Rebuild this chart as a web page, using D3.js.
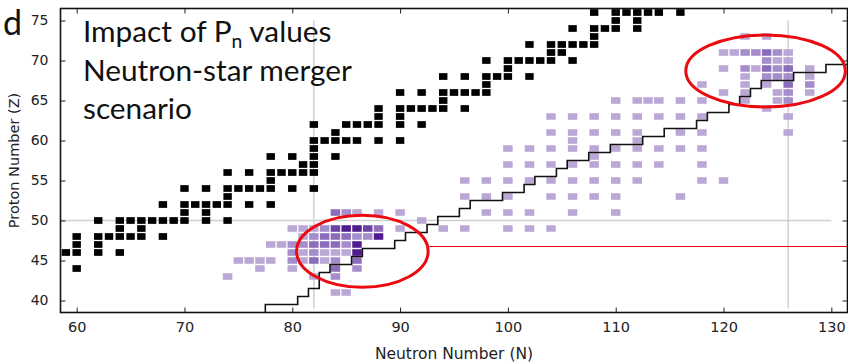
<!DOCTYPE html>
<html lang="en">
<head>
<meta charset="utf-8">
<script src="https://d3js.org/d3.v7.min.js"></script>
<style>
  body { margin: 0; background: #fff; }
  svg { display: block; }
  .axis text { font-family: "DejaVu Sans", sans-serif; fill: #222; }
  .axis line { stroke: #222; stroke-width: 1; }
  .axis .domain { display: none; }
</style>
</head>
<body>
<script>

// stable nuclei (black squares): proton number and its neutron numbers
var stableZ = [44, 46, 47, 48, 49, 50, 51, 52, 53, 54, 55, 56, 57, 58, 59, 60, 61, 62,
               63, 64, 65, 66, 67, 68, 69, 70, 71, 72, 73, 74, 75, 76];
var stableN = [
  [60], [59, 60, 62, 64], [60, 62], [60, 62, 63, 64, 65, 66, 68], [64, 66],
  [62, 64, 65, 66, 67, 68, 69, 70, 72, 74], [70, 72], [68, 70, 71, 72, 73, 74, 76, 78],
  [74], [70, 72, 74, 75, 76, 77, 78, 80, 82], [78], [74, 76, 78, 79, 80, 81, 82],
  [81, 82], [78, 80, 82, 84], [82], [82, 83, 84, 85, 86, 88, 90], [84],
  [82, 85, 86, 87, 88, 90, 92], [88, 90], [88, 90, 91, 92, 93, 94, 96], [94],
  [90, 92, 94, 95, 96, 97, 98], [98], [94, 96, 98, 99, 100, 102], [100],
  [98, 100, 101, 102, 103, 104, 106], [104, 105], [102, 104, 105, 106, 107, 108], [108],
  [106, 108, 109, 110, 112], [110, 112], [108, 110, 111, 112, 113, 114, 116]
];

// nuclei with Pn-value impact (purple squares), level 1 (weak) .. 5 (strong)
var pnZ = [41, 43, 44, 45, 46, 47, 48, 49, 50, 51, 53, 55, 57, 58, 59, 60, 61,
           63, 64, 65, 66, 67, 68, 69, 70, 71, 73];
var pnN = [
  [84, 85],
  [74, 82, 84],
  [77, 80, 84, 86],
  [75, 76, 77, 78, 80, 81, 82, 83, 84, 86],
  [80, 81, 82, 83, 84, 85, 86],
  [78, 79, 80, 81, 82, 83, 84, 85, 86],
  [81, 82, 83, 84, 85, 86, 87, 88],
  [80, 81, 82, 83, 84, 85, 86, 87, 88, 90, 94, 96, 100, 102, 104],
  [92],
  [84, 85, 86, 88, 90, 98, 100, 102, 106, 110],
  [96, 98, 100, 104, 106, 108, 110, 116],
  [96, 98, 100, 102, 104, 106, 108, 110, 112, 118, 120],
  [100, 102, 104, 106, 108, 110, 112, 114, 118],
  [108],
  [100, 102, 104, 106, 108, 110, 112, 114, 116, 118],
  [106, 112],
  [104, 106, 108, 110, 112, 116, 118, 126],
  [104, 106, 108, 110, 112, 114, 116, 118, 126],
  [124],
  [110, 112, 113, 114, 116, 118, 122, 125, 126],
  [120, 122, 125, 126, 128],
  [118, 122, 124, 126, 128],
  [122, 124, 125, 126, 128],
  [120, 122, 123, 124, 125, 126, 128],
  [124, 125, 126],
  [120, 121, 122, 123, 124, 125, 126],
  [122, 124]
];
var pnLevel = [
  [1, 1],
  [1, 1, 2],
  [1, 1, 3, 2],
  [1, 1, 1, 1, 2, 1, 3, 1, 2, 3],
  [2, 1, 2, 1, 1, 1, 5],
  [1, 1, 2, 2, 3, 3, 3, 2, 5],
  [1, 2, 3, 3, 3, 2, 2, 5],
  [1, 1, 1, 2, 4, 5, 5, 4, 3, 1, 1, 1, 1, 1, 1],
  [1],
  [3, 2, 1, 1, 1, 1, 1, 1, 1, 1],
  [1, 1, 1, 1, 1, 1, 1, 1],
  [1, 1, 1, 1, 1, 1, 1, 1, 1, 1, 1],
  [1, 1, 1, 1, 1, 1, 1, 1, 1],
  [1],
  [1, 1, 1, 1, 1, 1, 1, 1, 1, 1],
  [1, 1],
  [1, 1, 1, 1, 1, 1, 1, 1],
  [1, 1, 1, 1, 1, 1, 1, 1, 1],
  [1],
  [1, 1, 1, 1, 1, 1, 1, 1, 2],
  [1, 1, 1, 2, 1],
  [1, 1, 1, 3, 2],
  [1, 2, 2, 2, 1],
  [1, 2, 1, 3, 2, 3, 1],
  [2, 1, 1],
  [1, 1, 2, 2, 3, 2, 1],
  [1, 1]
];
var levelColors = ["#bba7d6", "#a58ccb", "#8c6dba", "#6c42a5", "#4f1d8e"];

// staircase (cell edges)
var pathN = [77.5, 77.5, 80.5, 80.5, 81.5, 81.5, 82.5, 82.5, 83.5, 83.5, 85.5, 85.5, 86.5, 86.5,
             89.5, 89.5, 90.5, 90.5, 92.5, 92.5, 93.5, 93.5, 95.5, 95.5, 96.5, 96.5, 99.5, 99.5,
             101.5, 101.5, 102.5, 102.5, 104.5, 104.5, 105.5, 105.5, 107.5, 107.5, 109.5, 109.5,
             112.5, 112.5, 114.5, 114.5, 117.5, 117.5, 118.5, 118.5, 120.5, 120.5, 121.5, 121.5,
             122.5, 122.5, 123.5, 123.5, 126.5, 126.5, 129.5, 129.5, 131.5];
var pathZ = [38.5, 39.5, 39.5, 40.5, 40.5, 41.5, 41.5, 43.5, 43.5, 44.5, 44.5, 45.5, 45.5, 46.5,
             46.5, 47.5, 47.5, 48.5, 48.5, 49.5, 49.5, 50.5, 50.5, 51.5, 51.5, 52.5, 52.5, 53.5,
             53.5, 54.5, 54.5, 55.5, 55.5, 56.5, 56.5, 57.5, 57.5, 58.5, 58.5, 59.5,
             59.5, 60.5, 60.5, 61.5, 61.5, 62.5, 62.5, 63.5, 63.5, 64.5, 64.5, 65.5,
             65.5, 66.5, 66.5, 67.5, 67.5, 68.5, 68.5, 69.5, 69.5];

var magicN = [82, 126];
var magicZ = [50];
var xTicks = [60, 70, 80, 90, 100, 110, 120, 130];
var yTicks = [40, 45, 50, 55, 60, 65, 70, 75];

// red annotations: ellipses (centre N, Z, radius N, Z) and the marker line
var ringN = [86.5, 123.9];
var ringZ = [46.15, 68.7];
var ringRN = [6.1, 7.4];
var ringRZ = [4.5, 4.5];
var markZ = 46.75, markN0 = 92.7;

var titleLines = ["Impact of P", "Neutron-star merger", "scenario"];

var width = 848, height = 364;
var svg = d3.select("body").append("svg")
    .attr("width", width).attr("height", height);

var x = d3.scaleLinear().domain([58.5, 131.5]).range([60.5, 847.5]);
var y = d3.scaleLinear().domain([38.5, 76.5]).range([312.5, 8.5]);

svg.append("clipPath").attr("id", "clip")
  .append("rect")
    .attr("x", x(58.5)).attr("y", y(76.5))
    .attr("width", x(131.5) - x(58.5)).attr("height", y(38.5) - y(76.5));

var plot = svg.append("g").attr("clip-path", "url(#clip)");

// magic number guide lines
plot.selectAll(".magN").data(magicN).enter().append("line")
    .attr("x1", d => x(d)).attr("x2", d => x(d))
    .attr("y1", y(39)).attr("y2", y(75))
    .attr("stroke", "#d0d0d0").attr("stroke-width", 1.5);
plot.selectAll(".magZ").data(magicZ).enter().append("line")
    .attr("x1", x(58.5)).attr("x2", x(130))
    .attr("y1", d => y(d)).attr("y2", d => y(d))
    .attr("stroke", "#d0d0d0").attr("stroke-width", 1.5);

// purple cells
var pnCells = [];
pnZ.forEach(function(z, i) {
  pnN[i].forEach(function(n, j) { pnCells.push({Z: z, N: n, lv: pnLevel[i][j]}); });
});
plot.selectAll(".pn").data(pnCells).enter().append("rect")
    .attr("x", d => x(d.N - 0.44))
    .attr("y", d => y(d.Z + 0.41))
    .attr("width", d => x(d.N + 0.44) - x(d.N - 0.44))
    .attr("height", d => y(d.Z - 0.41) - y(d.Z + 0.41))
    .attr("fill", d => levelColors[d.lv - 1]);

// stable cells
var stableCells = [];
stableZ.forEach(function(z, i) {
  stableN[i].forEach(function(n) { stableCells.push({Z: z, N: n}); });
});
plot.selectAll(".st").data(stableCells).enter().append("rect")
    .attr("x", d => x(d.N - 0.39))
    .attr("y", d => y(d.Z + 0.42))
    .attr("width", d => x(d.N + 0.39) - x(d.N - 0.39))
    .attr("height", d => y(d.Z - 0.42) - y(d.Z + 0.42))
    .attr("fill", "#000");

// staircase
var stair = d3.line().x(d => x(d[0])).y(d => y(d[1]));
plot.append("path")
    .attr("d", stair(pathN.map((n, i) => [n, pathZ[i]])))
    .attr("fill", "none").attr("stroke", "#111").attr("stroke-width", 1.6);

// red marker line
plot.append("line")
    .attr("x1", x(markN0)).attr("x2", x(131.5))
    .attr("y1", y(markZ)).attr("y2", y(markZ))
    .attr("stroke", "#e8000b").attr("stroke-width", 1.2);

// axes (ticks pointing inward on all four sides)
var gx = svg.append("g").attr("class", "axis")
    .attr("transform", "translate(0," + y(38.5) + ")")
    .call(d3.axisBottom(x).tickValues(xTicks).tickSize(-5).tickPadding(9));
gx.selectAll("text").style("font-size", "14.5px");

var gy = svg.append("g").attr("class", "axis")
    .attr("transform", "translate(" + x(58.5) + ",0)")
    .call(d3.axisLeft(y).tickValues(yTicks).tickSize(-5).tickPadding(12));
gy.selectAll("text").style("font-size", "14px");

svg.append("g").attr("class", "axis")
    .attr("transform", "translate(0," + y(76.5) + ")")
    .call(d3.axisTop(x).tickValues(xTicks).tickSize(-5).tickFormat(""));
svg.append("g").attr("class", "axis")
    .attr("transform", "translate(" + x(131.5) + ",0)")
    .call(d3.axisRight(y).tickValues(yTicks).tickSize(-5).tickFormat(""));

// frame
svg.append("rect")
    .attr("x", x(58.5)).attr("y", y(76.5))
    .attr("width", x(131.5) - x(58.5)).attr("height", y(38.5) - y(76.5))
    .attr("fill", "none").attr("stroke", "#111").attr("stroke-width", 1.6);

// red ellipses
svg.selectAll(".ring").data(ringN).enter().append("ellipse")
    .attr("cx", d => x(d))
    .attr("cy", (d, i) => y(ringZ[i]))
    .attr("rx", (d, i) => x(d + ringRN[i]) - x(d))
    .attr("ry", (d, i) => y(ringZ[i]) - y(ringZ[i] + ringRZ[i]))
    .attr("fill", "none").attr("stroke", "#ea0a10").attr("stroke-width", 3);

// axis titles
svg.append("text")
    .attr("x", (x(58.5) + x(131.5)) / 2).attr("y", 359)
    .attr("text-anchor", "middle")
    .style("font-family", "DejaVu Sans").style("font-size", "15.5px").style("fill", "#222")
    .text("Neutron Number (N)");
svg.append("text")
    .attr("transform", "translate(19," + (y(38.5) + y(76.5)) / 2 + ") rotate(-90)")
    .attr("text-anchor", "middle")
    .style("font-family", "DejaVu Sans").style("font-size", "14.5px").style("fill", "#222")
    .text("Proton Number (Z)");

// panel letter
svg.append("text")
    .attr("x", 3).attr("y", 35)
    .style("font-family", "Lato").style("font-size", "34px").style("fill", "#111")
    .text("d");

// title block
var title = svg.append("g")
    .style("font-family", "Lato").style("fill", "#111");
var fs = 30;
var t1 = title.append("text").attr("x", 83).attr("y", 42).style("font-size", fs + "px");
t1.append("tspan").text(titleLines[0]);
t1.append("tspan").attr("dy", 6).style("font-size", (fs * 0.65) + "px").text("n");
t1.append("tspan").attr("dy", -6).text(" values");
var t2 = title.append("text").attr("x", 83).attr("y", 81).style("font-size", fs + "px")
    .text(titleLines[1]);
title.append("text").attr("x", 83).attr("y", 119).style("font-size", fs + "px")
    .text(titleLines[2]);

// fit the block to the width of the second line
var k = 269 / t2.node().getComputedTextLength();
title.selectAll("text").style("font-size", (fs * k) + "px");
t1.select("tspan:nth-child(2)").style("font-size", (fs * k * 0.65) + "px");

</script>
</body>
</html>
